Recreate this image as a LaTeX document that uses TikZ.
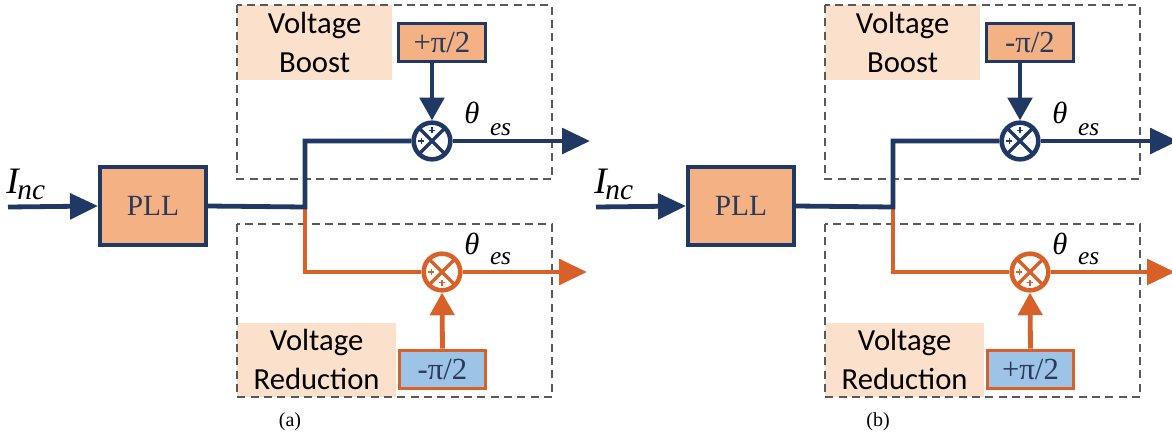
\documentclass[tikz,border=0pt]{standalone}
\usepackage{fontspec}
\setmainfont{Liberation Serif}
\newfontfamily\calfont{Carlito}
\usetikzlibrary{arrows.meta}

\definecolor{navy}{HTML}{1F3864}
\definecolor{pllorange}{HTML}{F4B183}
\definecolor{peach}{HTML}{FBE0CB}
\definecolor{rust}{HTML}{D8612A}
\definecolor{skyblue}{HTML}{9DC3E6}
\definecolor{dashgray}{HTML}{595959}
\definecolor{inktext}{HTML}{2B3A58}

\tikzset{
  sig/.style={line width=3.6pt,line join=miter},
  htip/.style={-{Triangle[length=21pt,width=19pt]}},
  vtip/.style={-{Triangle[length=17pt,width=18pt]}},
  region/.style={draw=dashgray,line width=1.1pt,dash pattern=on 6pt off 4pt},
  regionlabel/.style={fill=peach,inner sep=0pt,align=center,
    font=\calfont\fontsize{23}{29}\selectfont},
  pllbox/.style={draw=navy,fill=pllorange,line width=3pt,text=inktext,
    minimum width=79.5pt,minimum height=58.5pt,font=\rmfamily\fontsize{22}{26}\selectfont},
  shiftbox/.style={line width=2.2pt,minimum width=65pt,minimum height=29pt,
    inner sep=0pt,text=inktext,font=\rmfamily\fontsize{23}{26}\selectfont},
  sumnode/.style n args={2}{circle,draw=#1,fill=white,line width=3.4pt,
    minimum size=27.5pt,inner sep=0pt,
    path picture={
      \draw[#1,line width=2.6pt]
        (path picture bounding box.north west) -- (path picture bounding box.south east)
        (path picture bounding box.north east) -- (path picture bounding box.south west);
      \foreach \a in {#2}
        \draw[#1,line width=0.8pt] ([shift={(\a:8pt)}]path picture bounding box.center)
          +(-2.3pt,0) -- +(2.3pt,0) +(0,-2.3pt) -- +(0,2.3pt);
    }},
  theta/.style={font=\rmfamily\itshape\fontsize{23}{26}\selectfont,inner sep=0pt}
}

\begin{document}
\begin{tikzpicture}[x=0.75pt,y=-0.75pt]
\useasboundingbox (0,0) rectangle (1172,437);
\foreach \p/\dx/\topsign/\botsign in {a/0/+/-, b/588/-/+}{
\begin{scope}[shift={(\dx,0)},name prefix=\p-]
  % shaded region labels
  \node[regionlabel,anchor=north west,minimum width=116pt,minimum height=56pt]
    (boostlbl) at (237,5) {Voltage\\Boost};
  \node[regionlabel,anchor=south west,minimum width=119pt,minimum height=55.5pt]
    (reducelbl) at (237,397) {Voltage\\Reduction};
  \draw[region] (237,5) rectangle (552,179);
  \draw[region] (237,224) rectangle (552,397);

  % blocks
  \coordinate (in) at (8,207);
  \node[pllbox] (pll) at (153,206) {PLL};
  \coordinate (split) at (305,207);
  \node[sumnode={navy}{90,180}] (sumB) at (432,141) {};
  \node[sumnode={rust}{180,270}] (sumR) at (442,272) {};
  \node[shiftbox,draw=navy,fill=pllorange] (shiftB) at (442,42.5) {\topsign π/2};
  \node[shiftbox,draw=rust,fill=skyblue] (shiftR) at (442.5,369.5) {\botsign π/2};
  \coordinate (outB) at (590,141);
  \coordinate (outR) at (587,272);

  % texts
  \node[anchor=base west,inner sep=0pt,font=\rmfamily\itshape] (inc) at (6,193)
    {\fontsize{28}{30}\selectfont I\kern-1pt\raisebox{-5pt}{\fontsize{22}{22}\selectfont nc}};
  \node[theta,anchor=base west] (thB) at (464,123)
    {θ\hspace{8pt}\raisebox{-9pt}{\fontsize{19}{19}\selectfont es}};
  \node[theta,anchor=base west] (thR) at (464,254)
    {θ\hspace{8pt}\raisebox{-8pt}{\fontsize{19}{19}\selectfont es}};
  \node[font=\rmfamily\fontsize{15}{17}\selectfont] (cap) at (290,422) {(\p)};

  % signal paths
  \draw[sig,navy,htip] (in) -- (pll.west);
  \draw[sig,rust] (split) |- (sumR.west);
  \draw[sig,navy] (pll.east) -- (split) |- (sumB.west);
  \draw[sig,navy,htip] (sumB.east) -- (outB);
  \draw[sig,rust,htip] (sumR.east) -- (outR);
  \draw[sig,navy,vtip] (shiftB.south -| sumB) -- (sumB.north);
  \draw[sig,rust,vtip] (shiftR.north) -- (sumR.south);
\end{scope}
}
\end{tikzpicture}
\end{document}
